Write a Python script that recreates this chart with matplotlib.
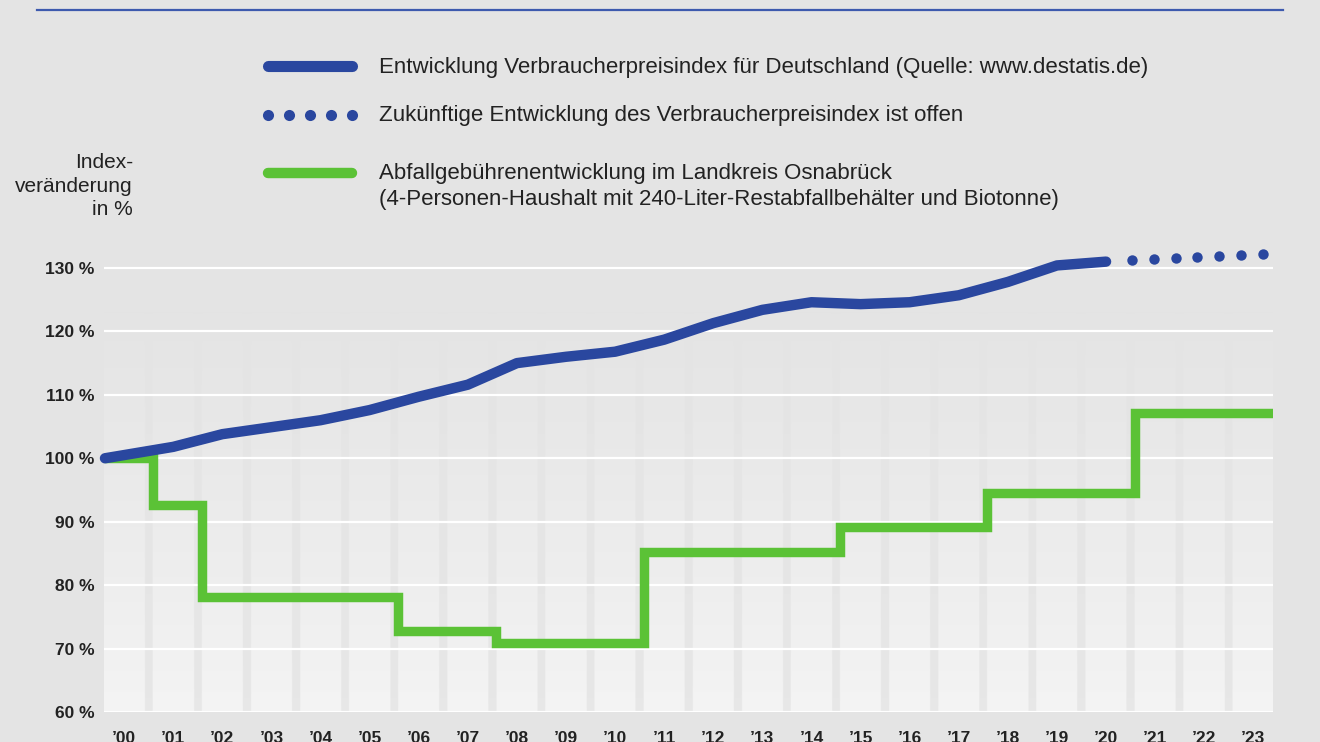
import numpy as np
import matplotlib.pyplot as plt

plt.rcParams['font.family'] = ['Liberation Sans', 'DejaVu Sans']

# data
year_labels = ["’00", "’01", "’02", "’03", "’04", "’05", "’06", "’07", "’08", "’09", "’10", "’11",
               "’12", "’13", "’14", "’15", "’16", "’17", "’18", "’19", "’20", "’21", "’22", "’23"]
cpi_values = [100.0, 101.8, 103.8, 104.9, 106.0, 107.6, 109.7, 111.6, 115.0, 116.0, 116.8, 118.7,
              121.3, 123.4, 124.6, 124.3, 124.6, 125.7, 127.8, 130.4, 131.0]
future_pos = [20.53, 20.98, 21.42, 21.86, 22.3, 22.75, 23.2]
future_values = [131.2, 131.4, 131.6, 131.7, 131.9, 132.0, 132.2]
fee_change_years = [0, 1, 2, 6, 8, 11, 15, 18, 21]
fee_values = [100.0, 92.6, 78.2, 72.8, 70.9, 85.2, 89.2, 94.5, 107.1]
y_ticks = [60, 70, 80, 90, 100, 110, 120, 130]

BLUE = '#2a479f'
GREEN = '#5bc236'
BG = '#e4e4e4'
TXT = '#222222'

x_left, x_right = -0.41, 23.4
y_low, y_high = 60, 134

fig = plt.figure(figsize=(13.2, 7.42), dpi=100, facecolor=BG)

# overlay in pixel coordinates for legend and header line
ax0 = fig.add_axes([0, 0, 1, 1])
ax0.set_xlim(0, 1320)
ax0.set_ylim(742, 0)
ax0.axis('off')
ax0.plot([37, 1283], [10, 10], color='#3d5aae', lw=1.6)
ax0.plot([268, 352], [66, 66], color=BLUE, lw=8, solid_capstyle='round')
ax0.plot([268, 289, 310, 331, 352], [115] * 5, 'o', color=BLUE, ms=8, mew=0)
ax0.plot([268, 352], [173, 173], color=GREEN, lw=7.5, solid_capstyle='round')
legend_size = 16
ax0.text(379, 68, 'Entwicklung Verbraucherpreisindex für Deutschland (Quelle: www.destatis.de)',
         fontsize=legend_size, color=TXT, va='center')
ax0.text(379, 115, 'Zukünftige Entwicklung des Verbraucherpreisindex ist offen',
         fontsize=legend_size, color=TXT, va='center')
ax0.text(379, 173, 'Abfallgebührenentwicklung im Landkreis Osnabrück',
         fontsize=legend_size, color=TXT, va='center')
ax0.text(379, 199, '(4-Personen-Haushalt mit 240-Liter-Restabfallbehälter und Biotonne)',
         fontsize=legend_size, color=TXT, va='center')
ax0.text(133, 186, 'Index-\nveränderung\nin %', fontsize=15, color=TXT,
         ha='right', va='center', linespacing=1.32)

ax = fig.add_axes([104 / 1320, 30 / 742, (1273 - 104) / 1320, (712 - 242.6) / 742])
ax.patch.set_alpha(0)
ax.set_xlim(x_left, x_right)
ax.set_ylim(y_low, y_high)

# light plot background with vertical stripes, fading to the page colour at the top
gx = np.linspace(x_left, x_right, 2400)
gy = np.linspace(y_low, 123, 300)
t = (gy - y_low) / (123 - y_low)
base = 0.957 - (0.957 - 0.894) * t ** 0.9
stripe = np.abs(((gx - 0.5) + 0.5) % 1 - 0.5) < 0.082
shade = 0.05 * (1 - t) ** 1.1
img = base[:, None] - shade[:, None] * stripe[None, :]
img = np.clip(img, 0, 1)
ax.imshow(np.dstack([img] * 3), extent=[x_left, x_right, y_low, 123], origin='lower',
          aspect='auto', interpolation='bilinear', zorder=0)

for v in y_ticks:
    ax.axhline(v, color='white', lw=1.6, zorder=1)

# CPI line
cpi_x = np.arange(len(cpi_values), dtype=float)
cpi_x[0] = x_left + 0.02
ax.plot(cpi_x, cpi_values, color=BLUE, lw=7.5, solid_capstyle='round',
        solid_joinstyle='round', zorder=4, clip_on=False)
ax.plot(future_pos, future_values, 'o', color=BLUE, ms=7.5, mew=0, zorder=4, clip_on=False)

# waste fee steps
fee_x = np.array(fee_change_years, dtype=float) - 0.42
fee_x[0] = x_left
fee_x = np.append(fee_x, x_right)
fee_y = fee_values + [fee_values[-1]]
ax.step(fee_x, fee_y, where='post', color=GREEN, lw=6.8, solid_joinstyle='miter',
        solid_capstyle='butt', zorder=3)

ax.set_yticks(y_ticks)
ax.set_yticklabels([f'{v} %' for v in y_ticks], fontsize=12.5, fontweight='bold', color=TXT)
ax.set_xticks(range(len(year_labels)))
ax.set_xticklabels(year_labels, fontsize=12.5, fontweight='bold', color=TXT)
ax.tick_params(length=0)
ax.tick_params(axis='y', pad=7)
ax.tick_params(axis='x', pad=14)
for s in ax.spines.values():
    s.set_visible(False)

fig.savefig('out.png', dpi=100, facecolor=BG)
